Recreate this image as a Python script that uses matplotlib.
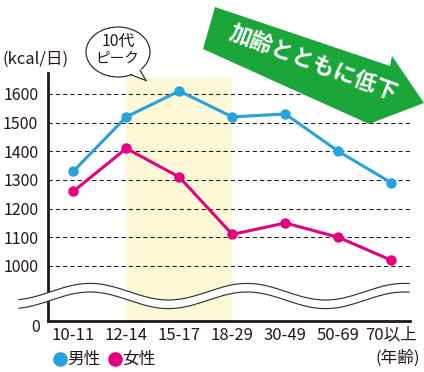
import matplotlib
matplotlib.use('Agg')
import matplotlib.pyplot as plt
from matplotlib.patches import Polygon, Ellipse
from matplotlib.lines import Line2D
from matplotlib.transforms import ScaledTranslation
import numpy as np

plt.rcParams['font.family'] = ['Noto Sans CJK JP', 'DejaVu Sans']

# ---- data ----
categories = ['10-11', '12-14', '15-17', '18-29', '30-49', '50-69', '70以上']
male = [1330, 1520, 1610, 1520, 1530, 1400, 1290]
female = [1260, 1410, 1310, 1110, 1150, 1100, 1020]
tick_values = [0, 1000, 1100, 1200, 1300, 1400, 1500, 1600]
grid_values = [1000, 1100, 1200, 1300, 1400, 1500, 1600]
series_names = ['男性', '女性']
peak_start, peak_end = '12-14', '18-29'
y_unit = '(kcal/日)'
x_unit = '(年齢)'
bubble_lines = ['10代', 'ピーク']
arrow_text = '加齢とともに低下'

# ---- style ----
INK = '#231815'
BLUE = '#27a2de'
PINK = '#e4007f'
YELLOW = '#fdf9d6'
GREEN = '#1ba63a'

W, H = 424, 372
fig = plt.figure(figsize=(W / 100, H / 100), dpi=100)


def F(x, y):
    return (x / W, 1 - y / H)


# axes in pixel layout
L, R, T, B = 48, 410, 73, 321
ax = fig.add_axes([L / W, 1 - B / H, (R - L) / W, (B - T) / H])
BREAK_BASE = 808  # axis value where the broken axis shows "0"
ax.set_ylim(BREAK_BASE, 1673)
ax.set_xlim(-0.477, 6.353)
xs = np.arange(len(categories))

# highlighted band
i0, i1 = categories.index(peak_start), categories.index(peak_end)
ax.axvspan(i0, i1, ymin=0, ymax=(B - 78) / (B - T), color=YELLOW, lw=0, zorder=0)

for v in grid_values:
    ax.axhline(v, color=INK, lw=0.75, ls=(0, (4.1, 2.9)), zorder=1)

ax.plot(xs, male, color=BLUE, lw=2.2, marker='o', ms=6.5, zorder=3, solid_capstyle='round')
ax.plot(xs, female, color=PINK, lw=2.2, marker='o', ms=6.5, zorder=3, solid_capstyle='round')

ax.set_yticks([BREAK_BASE if v == 0 else v for v in tick_values])
ax.set_yticklabels([str(v) for v in tick_values], fontsize=11.5, color=INK)
ax.set_xticks(xs)
ax.set_xticklabels(categories, fontsize=12, color=INK)
ax.tick_params(axis='both', length=0)
ax.tick_params(axis='y', pad=7)
ax.tick_params(axis='x', pad=4)
# the "0" of the broken axis sits a little lower
zero_lbl = ax.get_yticklabels()[0]
zero_lbl.set_transform(zero_lbl.get_transform() + ScaledTranslation(0.02, -0.05, fig.dpi_scale_trans))
for s in ['top', 'right']:
    ax.spines[s].set_visible(False)
for s in ['left', 'bottom']:
    ax.spines[s].set_color(INK)
    ax.spines[s].set_linewidth(2.0)
ax.patch.set_alpha(0)

# ---- wave break ----
xw = np.linspace(19, 409, 400)
upper = 291.7 - 8.3 * np.cos(2 * np.pi * (xw - 90) / 157)
lower = upper + 8.6
poly = np.concatenate([np.column_stack([xw, upper]), np.column_stack([xw[::-1], lower[::-1]])])
fig.add_artist(Polygon([F(x, y) for x, y in poly], closed=True, facecolor='white',
                       edgecolor='none', transform=fig.transFigure, zorder=5))
for yy in (upper, lower):
    fig.add_artist(Line2D(xw / W, 1 - yy / H, color='#333333', lw=0.85,
                          transform=fig.transFigure, zorder=6))

# ---- speech bubble ----
fig.add_artist(Ellipse(F(118, 52), 64 / W, 50 / H, facecolor='white', edgecolor=INK,
                       lw=0.8, transform=fig.transFigure, zorder=7))
tail = [(130, 73.5), (141, 68.5), (146, 80.5)]
fig.add_artist(Polygon([F(x, y) for x, y in tail], closed=True, facecolor='white',
                       edgecolor='none', transform=fig.transFigure, zorder=8))
for (x0, y0) in [(131, 74.8), (140, 70.2)]:
    fig.add_artist(Line2D([x0 / W, 146 / W], [1 - y0 / H, 1 - 80.5 / H], color=INK, lw=0.8,
                          transform=fig.transFigure, zorder=9))
fig.text(*F(118, 41), bubble_lines[0], ha='center', va='center', fontsize=11.5, color=INK, zorder=10)
fig.text(*F(117, 59), bubble_lines[1], ha='center', va='center', fontsize=10.5, color=INK, zorder=10)

# ---- green arrow ----
arrow = [(215, 7), (390, 66), (392, 56), (424, 103), (369, 124), (203, 49)]
fig.add_artist(Polygon([F(x, y) for x, y in arrow], closed=True, facecolor=GREEN,
                       edgecolor='none', transform=fig.transFigure, zorder=7))
fig.text(*F(313, 64), arrow_text, ha='center', va='center', rotation=-20.5,
         rotation_mode='anchor', fontsize=16, fontweight='bold', color='white', zorder=10)

# ---- labels ----
fig.text(*F(3, 59), y_unit, ha='left', va='center', fontsize=12, color=INK)
fig.text(*F(420, 358), x_unit, ha='right', va='center', fontsize=12, color=INK)

# legend
for (mx, tx), name, col in zip([(60, 67), (115, 122)], series_names, [BLUE, PINK]):
    fig.add_artist(Line2D([mx / W], [1 - 359 / H], marker='o', ms=9.5, color=col, lw=0,
                          transform=fig.transFigure))
    fig.text(*F(tx, 359), name, ha='left', va='center', fontsize=12, color=INK)

fig.savefig('out.png', dpi=100)
